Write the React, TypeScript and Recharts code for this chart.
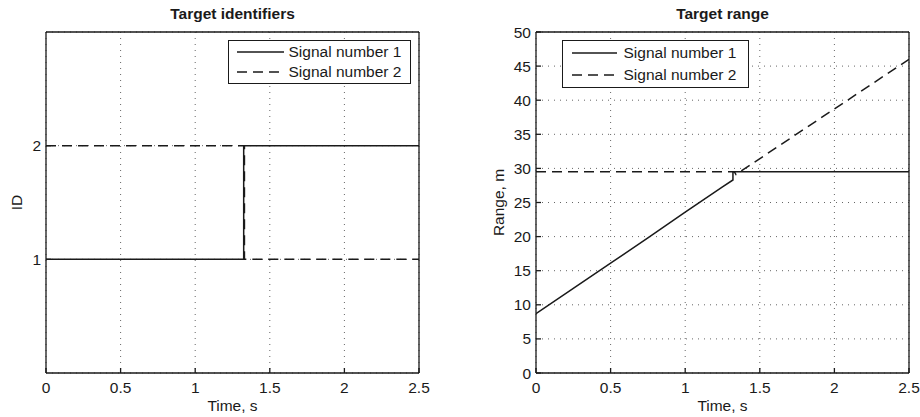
import React from "react";
import {
  LineChart,
  Line,
  XAxis,
  YAxis,
  CartesianGrid,
  Legend,
  Label,
} from "recharts";

// axis ticks
const timeTicks = [0, 0.5, 1, 1.5, 2, 2.5];
const idTicks = [1, 2];
const rangeTicks = [0, 5, 10, 15, 20, 25, 30, 35, 40, 45, 50];

// Target identifiers
const idSignal1Time = [0, 1.325, 1.325, 2.5];
const idSignal1Value = [1, 1, 2, 2];
const idSignal2Time = [0, 1.33, 1.33, 2.5];
const idSignal2Value = [2, 2, 1, 1];

// Target range (m)
const rangeSignal1Time = [0, 0.25, 0.5, 0.75, 1.0, 1.25, 1.32, 1.32, 2.5];
const rangeSignal1Value = [8.7, 12.4, 16.1, 19.8, 23.6, 27.3, 28.3, 29.5, 29.5];
const rangeSignal2Time = [0, 1.33, 1.34, 2.5];
const rangeSignal2Value = [29.5, 29.5, 29.1, 46.0];

const seriesNames = ["Signal number 1", "Signal number 2"];

const FONT = "'Liberation Sans', Arial, Helvetica, sans-serif";
const FONT_SIZE = 15.5;
const INK = "#1a1a1a";
const DASH = "10 6";

const toPoints = (t: number[], v: number[]) => t.map((x, i) => ({ t: x, v: v[i] }));

type LegendBoxProps = {
  width: number;
  height: number;
  sampleLeft: number;
  sampleWidth: number;
  textGap: number;
  rowHeight: number;
};

function LegendBox({ width, height, sampleLeft, sampleWidth, textGap, rowHeight }: LegendBoxProps) {
  return (
    <div
      style={{
        width,
        height,
        boxSizing: "border-box",
        border: `1.5px solid ${INK}`,
        background: "#fff",
        display: "flex",
        flexDirection: "column",
        justifyContent: "center",
        fontFamily: FONT,
        fontSize: FONT_SIZE,
        color: INK,
      }}
    >
      {seriesNames.map((name, i) => (
        <div key={name} style={{ display: "flex", alignItems: "center", height: rowHeight }}>
          <svg width={sampleWidth} height={4} style={{ marginLeft: sampleLeft - 1.5, marginRight: textGap }}>
            <line
              x1={0}
              y1={2}
              x2={sampleWidth}
              y2={2}
              stroke={INK}
              strokeWidth={1.5}
              strokeDasharray={i === 1 ? DASH : undefined}
            />
          </svg>
          <span style={{ whiteSpace: "nowrap" }}>{name}</span>
        </div>
      ))}
    </div>
  );
}

type PanelProps = {
  title: string;
  yLabel: string;
  yDomain: [number, number];
  yTicks: number[];
  yAxisWidth: number;
  yLabelOffset: number;
  rightMargin: number;
  s1: { t: number; v: number }[];
  s2: { t: number; v: number }[];
  legend: LegendBoxProps & { left: number; top: number };
};

function Panel({ title, yLabel, yDomain, yTicks, yAxisWidth, yLabelOffset, rightMargin, s1, s2, legend }: PanelProps) {
  const plotWidth = 460 - yAxisWidth - rightMargin;
  const tickStyle = { fill: INK, fontSize: FONT_SIZE, fontFamily: FONT };
  return (
    <div style={{ position: "relative", width: 460, height: 417 }}>
      <div
        style={{
          position: "absolute",
          left: yAxisWidth,
          width: plotWidth,
          top: 5,
          textAlign: "center",
          fontFamily: FONT,
          fontWeight: "bold",
          fontSize: FONT_SIZE,
          color: INK,
        }}
      >
        {title}
      </div>
      {/* top axis and right axis are 1px wide: they only draw the frame and inward ticks */}
      <LineChart width={460} height={417} margin={{ top: 31, right: rightMargin - 1, bottom: 0, left: 0 }}>
        <CartesianGrid stroke="#666" strokeDasharray="1 5" />
        <XAxis
          dataKey="t"
          type="number"
          domain={[0, 2.5]}
          ticks={timeTicks}
          height={44}
          tick={tickStyle}
          tickSize={-5}
          tickMargin={14}
          stroke={INK}
          strokeWidth={1.3}
          allowDataOverflow
        >
          <Label value="Time, s" position="insideBottom" offset={6} fill={INK} fontSize={FONT_SIZE} fontFamily={FONT} />
        </XAxis>
        <XAxis
          xAxisId="top"
          orientation="top"
          dataKey="t"
          type="number"
          domain={[0, 2.5]}
          ticks={timeTicks}
          height={1}
          tick={false}
          tickSize={-5}
          stroke={INK}
          strokeWidth={1.3}
        />
        <YAxis
          type="number"
          domain={yDomain}
          ticks={yTicks}
          width={yAxisWidth}
          tick={tickStyle}
          tickSize={-5}
          tickMargin={10}
          stroke={INK}
          strokeWidth={1.3}
          interval={0}
        >
          <Label
            value={yLabel}
            angle={-90}
            position="insideLeft"
            offset={yLabelOffset}
            fill={INK}
            fontSize={FONT_SIZE}
            fontFamily={FONT}
            style={{ textAnchor: "middle" }}
          />
        </YAxis>
        <YAxis
          yAxisId="right"
          orientation="right"
          type="number"
          domain={yDomain}
          ticks={yTicks}
          width={1}
          tick={false}
          tickSize={-5}
          stroke={INK}
          strokeWidth={1.3}
          interval={0}
        />
        <Legend
          layout="vertical"
          align="center"
          verticalAlign="middle"
          wrapperStyle={{ left: legend.left, top: legend.top, width: legend.width, height: legend.height }}
          content={() => <LegendBox {...legend} />}
        />
        <Line
          data={s2}
          dataKey="v"
          name={seriesNames[1]}
          type="linear"
          stroke={INK}
          strokeWidth={1.5}
          strokeDasharray={DASH}
          dot={false}
          activeDot={false}
          isAnimationActive={false}
        />
        <Line
          data={s1}
          dataKey="v"
          name={seriesNames[0]}
          type="linear"
          stroke={INK}
          strokeWidth={1.5}
          dot={false}
          activeDot={false}
          isAnimationActive={false}
        />
      </LineChart>
    </div>
  );
}

export default function App() {
  return (
    <div style={{ position: "absolute", left: 0, top: 0, width: 920, height: 417, display: "flex", background: "#fff" }}>
      <Panel
        title="Target identifiers"
        yLabel="ID"
        yDomain={[0, 3]}
        yTicks={idTicks}
        yAxisWidth={46}
        yLabelOffset={16}
        rightMargin={41}
        s1={toPoints(idSignal1Time, idSignal1Value)}
        s2={toPoints(idSignal2Time, idSignal2Value)}
        legend={{ left: 228, top: 40, width: 183, height: 44, sampleLeft: 9, sampleWidth: 47, textGap: 5, rowHeight: 19.5 }}
      />
      <Panel
        title="Target range"
        yLabel="Range, m"
        yDomain={[0, 50]}
        yTicks={rangeTicks}
        yAxisWidth={76}
        yLabelOffset={38}
        rightMargin={11}
        s1={toPoints(rangeSignal1Time, rangeSignal1Value)}
        s2={toPoints(rangeSignal2Time, rangeSignal2Value)}
        legend={{ left: 102, top: 40, width: 187, height: 48, sampleLeft: 10, sampleWidth: 45, textGap: 7, rowHeight: 22.5 }}
      />
    </div>
  );
}
